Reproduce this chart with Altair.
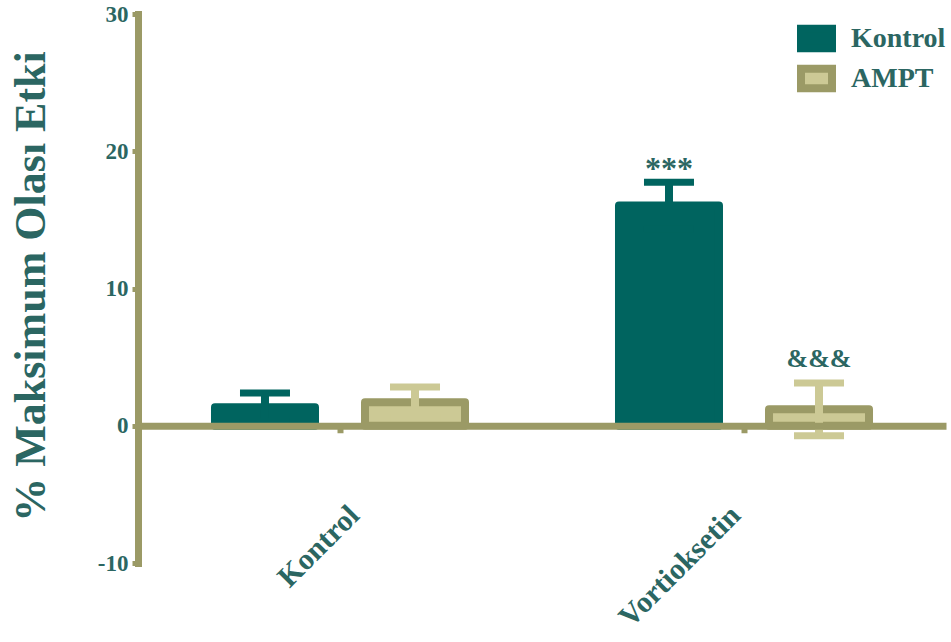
import altair as alt
import pandas as pd

# ---- data ----
categories = ["Kontrol", "Kontrol", "Vortioksetin", "Vortioksetin"]
groups = ["Kontrol", "AMPT", "Kontrol", "AMPT"]
means = [1.34, 1.71, 16.04, 1.2]
errors = [1.04, 1.11, 1.70, 1.92]

ann_categories = ["Vortioksetin", "Vortioksetin"]
ann_groups = ["Kontrol", "AMPT"]
ann_labels = ["***", "&&&"]
ann_levels = [18.0, 4.3]

cat_order = ["Kontrol", "Vortioksetin"]
grp_order = ["Kontrol", "AMPT"]
y_ticks = [-10, 0, 10, 20, 30]

TEAL = "#00645f"
TEXT = "#2b6662"
TAN = "#ccc995"
OLIVE = "#9b9a66"
FONT = "Liberation Serif"

df = pd.DataFrame({"cat": categories, "grp": groups, "mean": means, "err": errors})
df["lo"] = df["mean"] - df["err"]
df["hi"] = df["mean"] + df["err"]
ann_df = pd.DataFrame({"cat": ann_categories, "grp": ann_groups,
                       "label": ann_labels, "level": ann_levels})

x = alt.X("cat:N", sort=cat_order,
          scale=alt.Scale(domain=cat_order, paddingInner=0, paddingOuter=0),
          axis=alt.Axis(title=None, labelAngle=-45, labelAlign="right",
                        labelBaseline="alphabetic", labelFont=FONT, labelFontSize=30,
                        labelFontWeight="bold", labelColor=TEXT, labelPadding=84,
                        labelOffset=alt.condition("datum.value == 'Kontrol'",
                                                  alt.value(21), alt.value(-2)),
                        domainColor=OLIVE, domainWidth=7,
                        tickColor=OLIVE, tickWidth=6, tickSize=7, offset=-137.25,
                        zindex=1, grid=False))
xo = alt.XOffset("grp:N", sort=grp_order,
                 scale=alt.Scale(domain=grp_order, paddingInner=0.333, paddingOuter=0.513))

yscale = alt.Scale(domain=[-10, 30], nice=False, zero=False)
yaxis = alt.Axis(title="% Maksimum Olası Etki", values=y_ticks, grid=False,
                 labelExpr="'' + datum.value",
                 domainColor=OLIVE, domainWidth=7, domainCap="square",
                 tickColor=OLIVE, tickWidth=5, tickSize=6,
                 labelFont=FONT, labelFontSize=23, labelFontWeight="bold",
                 labelColor=TEXT, labelPadding=4,
                 titleFont=FONT, titleFontSize=44, titleFontWeight="bold",
                 titleColor=TEXT, titleAngle=-90, titleX=-94, titleY=272,
                 titleAlign="center", titleBaseline="alphabetic")


def Y(field):
    return alt.Y(f"{field}:Q", scale=yscale, axis=yaxis)


fill_scale = alt.Scale(domain=grp_order, range=[TEAL, TAN])
stroke_scale = alt.Scale(domain=grp_order, range=[TEAL, OLIVE])
err_scale = alt.Scale(domain=grp_order, range=[TEAL, TAN])

bars = alt.Chart(df).mark_bar(size=100, strokeWidth=8, strokeJoin="round").encode(
    x=x, xOffset=xo, y=Y("mean"), y2=alt.datum(0),
    fill=alt.Fill("grp:N", sort=grp_order, scale=fill_scale, legend=alt.Legend(title=None)),
    stroke=alt.Stroke("grp:N", sort=grp_order, scale=stroke_scale, legend=alt.Legend(title=None)),
)

stems = alt.Chart(df).mark_bar(size=8, opacity=1).encode(
    x=x, xOffset=xo, y=Y("lo"), y2="hi:Q",
    color=alt.Color("grp:N", scale=err_scale, legend=None),
)

caps_hi = alt.Chart(df).mark_tick(size=50, thickness=7, opacity=1).encode(
    x=x, xOffset=xo, y=Y("hi"),
    color=alt.Color("grp:N", scale=err_scale, legend=None),
)
caps_lo = alt.Chart(df).mark_tick(size=50, thickness=7, opacity=1).encode(
    x=x, xOffset=xo, y=Y("lo"),
    color=alt.Color("grp:N", scale=err_scale, legend=None),
)

stars = alt.Chart(ann_df).transform_filter("datum.label == '***'").mark_text(
    font=FONT, fontSize=32, fontWeight="bold", color=TEXT, baseline="alphabetic"
).encode(x=x, xOffset=xo, y=Y("level"), text="label:N")

amps = alt.Chart(ann_df).transform_filter("datum.label == '&&&'").mark_text(
    font=FONT, fontSize=26, fontWeight="bold", color=TEXT, baseline="alphabetic"
).encode(x=x, xOffset=xo, y=Y("level"), text="label:N")

chart = alt.layer(bars, stems, caps_hi, caps_lo, stars, amps).properties(
    width=808, height=549,
    autosize=alt.AutoSizeParams(type="none"),
    padding={"left": 138, "top": 14, "right": 5, "bottom": 79},
    background="white",
).configure_view(stroke=None).configure_legend(
    orient="none", legendX=659, legendY=9, padding=0,
    labelFont=FONT, labelFontSize=28, labelFontWeight="bold", labelColor=TEXT,
    symbolType="M-1,-0.63H1V0.63H-1Z", symbolSize=961, symbolStrokeWidth=8,
    symbolOpacity=1, rowPadding=9, clipHeight=31, labelOffset=15,
)

chart.save("out.html", embed_options={"renderer": "svg", "actions": False})
